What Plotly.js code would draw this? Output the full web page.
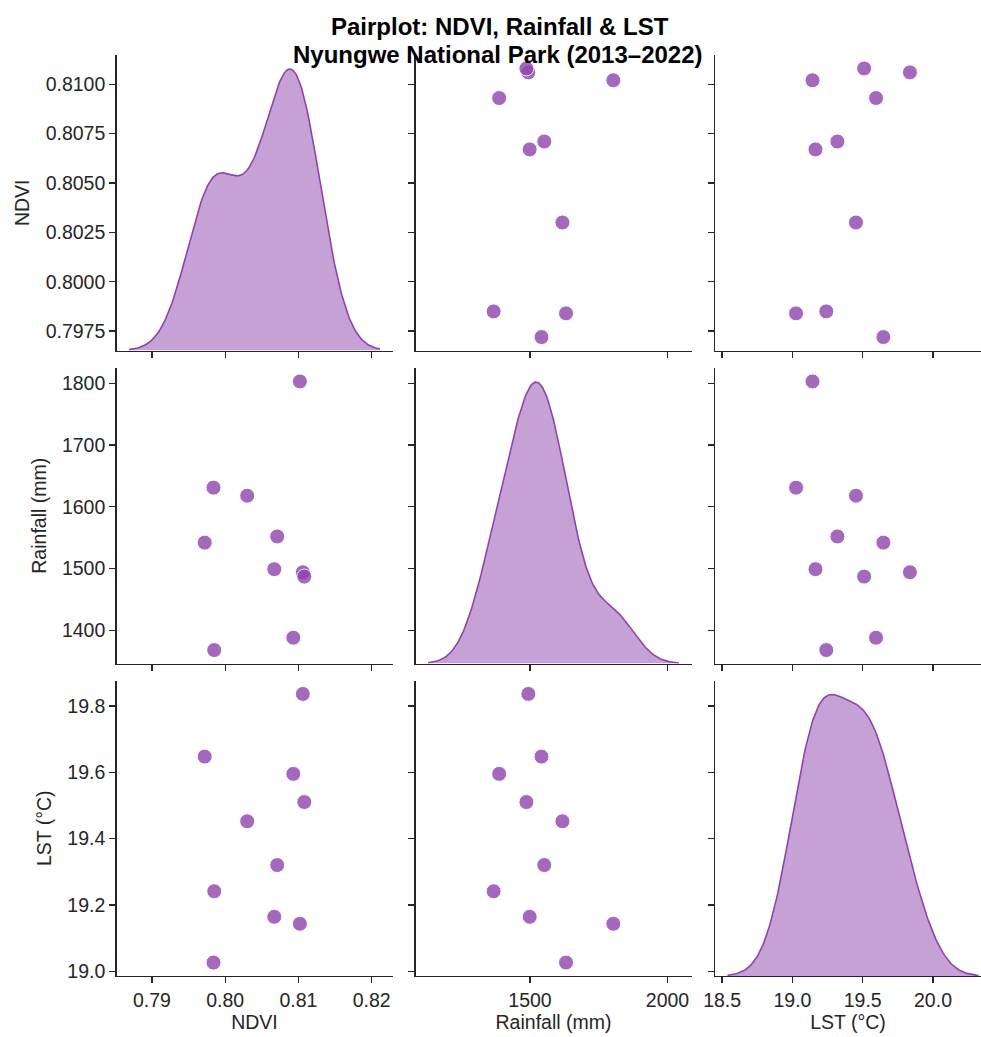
<!DOCTYPE html>
<html><head><meta charset="utf-8">
<script src="https://cdn.plot.ly/plotly-3.0.1.min.js"></script>
<style>html,body{margin:0;padding:0;background:#fff}#chart{width:981px;height:1037px}</style>
</head><body><div id="chart"></div>
<script>
// ---- data ----
const years    = [2013, 2014, 2015, 2016, 2017, 2018, 2019, 2020, 2021, 2022];
const ndvi     = [0.8102, 0.7984, 0.8030, 0.8071, 0.7972, 0.8067, 0.8106, 0.8108, 0.8093, 0.7985];
const rainfall = [1803, 1631, 1618, 1552, 1542, 1499, 1494, 1487, 1388, 1368];
const lst      = [19.143, 19.026, 19.452, 19.320, 19.647, 19.164, 19.836, 19.510, 19.595, 19.241];
const varLabels = ['NDVI', 'Rainfall (mm)', 'LST (°C)'];
const titleLines = ['Pairplot: NDVI, Rainfall & LST', 'Nyungwe National Park (2013–2022)'];

const series = [ndvi, rainfall, lst];

// ---- style ----
const W = 981, H = 1037;
const purple = '#8e44ad';
const ink = '#262626';
const FONT = 'Liberation Sans, Arial, Helvetica, sans-serif';
const colPx = [[116.5, 392.5], [415.5, 691.5], [715, 991]];
const rowPx = [[55, 350.5], [368, 663.5], [680.5, 976]];
const dticks = [0.01, 500, 0.5];
const xfmts = ['.2f', 'd', '.1f'];
const ydticks = [0.0025, 100, 0.2];
const yfmts = ['.4f', 'd', '.1f'];

// Gaussian KDE (Scott bandwidth, cut = 3, 200 grid points) as seaborn does
function kde(vals) {
  const n = vals.length;
  const mean = vals.reduce((a, b) => a + b, 0) / n;
  const sd = Math.sqrt(vals.reduce((a, b) => a + (b - mean) ** 2, 0) / (n - 1));
  const h = sd * Math.pow(n, -0.2);
  const lo = Math.min(...vals) - 3 * h, hi = Math.max(...vals) + 3 * h;
  const xs = [], ys = [];
  for (let i = 0; i < 200; i++) {
    const x = lo + (hi - lo) * i / 199;
    let s = 0;
    for (const v of vals) s += Math.exp(-0.5 * ((x - v) / h) ** 2);
    xs.push(x); ys.push(s / (n * h * Math.sqrt(2 * Math.PI)));
  }
  return {xs, ys, lo, hi};
}
const kdes = series.map(kde);

// matplotlib-like 5% margins
const colRange = kdes.map((k, c) => {
  const lo = Math.min(k.lo, ...series[c]), hi = Math.max(k.hi, ...series[c]);
  const p = 0.05 * (hi - lo);
  let r0 = lo - p, r1 = hi + p;
  const [a, b] = colPx[c];
  if (b > W) r1 = r0 + (r1 - r0) * (W - a) / (b - a); // right column cut by the frame
  return [r0, r1];
});
const rowRange = series.map(v => {
  const lo = Math.min(...v), hi = Math.max(...v), p = 0.05 * (hi - lo);
  return [lo - p, hi + p];
});

const axBase = {
  showline: true, linecolor: ink, linewidth: 1.3, mirror: false,
  ticks: 'outside', ticklen: 6, tickwidth: 1.3, tickcolor: ink,
  showgrid: false, zeroline: false, automargin: false,
  tickfont: {family: FONT, size: 19.5, color: ink}
};

const layout = {
  width: W, height: H, margin: {l: 0, r: 0, t: 0, b: 0},
  paper_bgcolor: '#fff', plot_bgcolor: 'rgba(0,0,0,0)',
  showlegend: false, font: {family: FONT, color: ink},
  annotations: [
    {text: '<b>' + titleLines[0] + '</b>', xref: 'paper', yref: 'paper', x: 500 / W, y: 1 - 27 / H,
     xanchor: 'center', yanchor: 'middle', showarrow: false, font: {family: FONT, size: 24, color: '#000'}},
    {text: '<b>' + titleLines[1] + '</b>', xref: 'paper', yref: 'paper', x: 498 / W, y: 1 - 55 / H,
     xanchor: 'center', yanchor: 'middle', showarrow: false, font: {family: FONT, size: 24, color: '#000'}}
  ]
};
const traces = [];

for (let r = 0; r < 3; r++) {
  for (let c = 0; c < 3; c++) {
    const k = r * 3 + c + 1;
    const xn = k === 1 ? 'xaxis' : 'xaxis' + k;
    const yn = k === 1 ? 'yaxis' : 'yaxis' + k;
    const xid = k === 1 ? 'x' : 'x' + k;
    const yid = k === 1 ? 'y' : 'y' + k;
    const xdom = [colPx[c][0] / W, Math.min(colPx[c][1], W) / W];
    const ydom = [1 - rowPx[r][1] / H, 1 - rowPx[r][0] / H];
    layout[xn] = Object.assign({}, axBase, {
      domain: xdom, anchor: yid,
      range: colRange[c], dtick: dticks[c], tick0: 0, tickformat: xfmts[c],
      showticklabels: r === 2,
      title: r === 2 ? {text: varLabels[c], font: {family: FONT, size: 19.5, color: ink}, standoff: 4} : {text: ''}
    });
    layout[yn] = Object.assign({}, axBase, {
      domain: ydom, anchor: xid,
      range: rowRange[r], dtick: ydticks[r], tick0: 0, tickformat: yfmts[r],
      showticklabels: c === 0,
      title: c === 0 ? {text: varLabels[r], font: {family: FONT, size: 19.5, color: ink}, standoff: 10} : {text: ''}
    });
    if (r !== c) {
      traces.push({
        type: 'scatter', mode: 'markers', x: series[c], y: series[r], text: years,
        xaxis: xid, yaxis: yid,
        marker: {size: 15, color: purple, opacity: 0.8, line: {color: '#fff', width: 1}},
        hovertemplate: '%{text}<extra></extra>'
      });
    } else {
      // keep the cell's own (shared) axes in use with an empty trace
      traces.push({type: 'scatter', mode: 'markers', x: [], y: [], xaxis: xid, yaxis: yid, hoverinfo: 'skip'});
      // diagonal: density drawn on its own hidden axes covering the same cell
      const id = 10 + r;
      const peak = Math.max(...kdes[r].ys);
      layout['xaxis' + id] = {domain: xdom, anchor: 'y' + id, range: colRange[c], visible: false,
                              showgrid: false, zeroline: false, fixedrange: true};
      layout['yaxis' + id] = {domain: ydom, anchor: 'x' + id, range: [0, peak * 1.05], visible: false,
                              showgrid: false, zeroline: false, fixedrange: true};
      traces.push({
        type: 'scatter', mode: 'lines', x: kdes[r].xs, y: kdes[r].ys,
        xaxis: 'x' + id, yaxis: 'y' + id, fill: 'tozeroy', fillcolor: 'rgba(142,68,173,0.5)',
        line: {color: purple, width: 1.6}, hoverinfo: 'skip'
      });
    }
  }
}

Plotly.newPlot('chart', traces, layout, {displayModeBar: false, staticPlot: true});
</script>
</body></html>
